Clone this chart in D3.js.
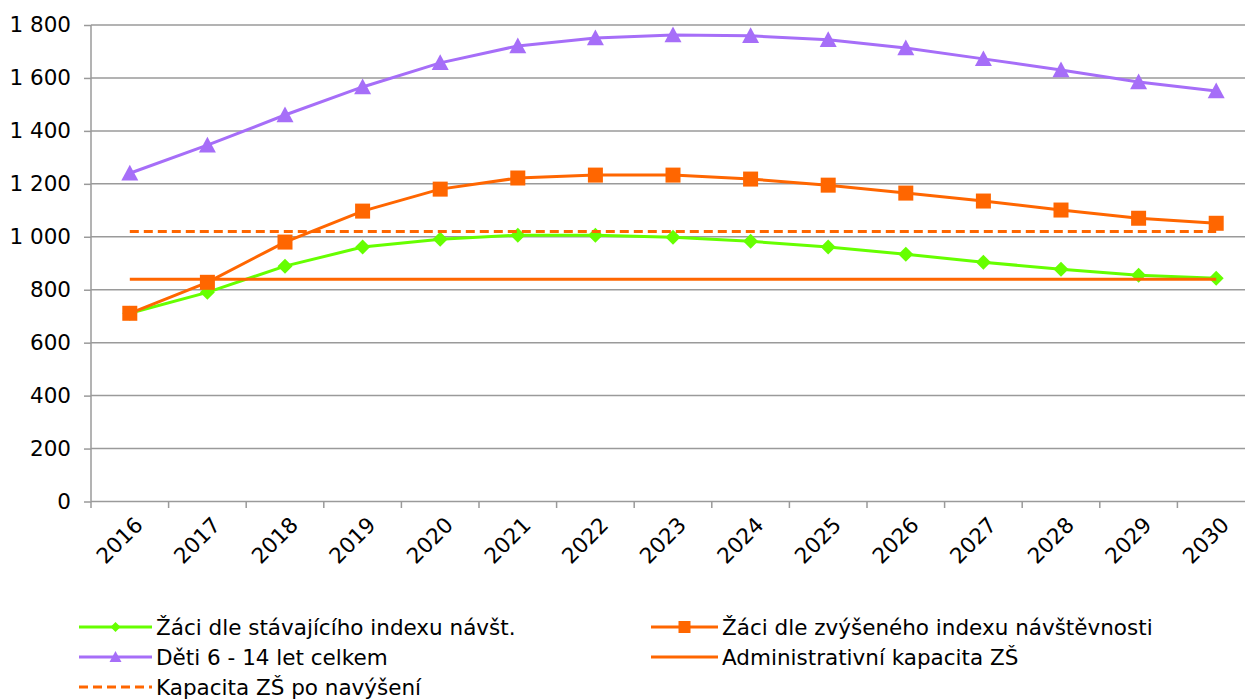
<!DOCTYPE html>
<html>
<head>
<meta charset="utf-8">
<script src="https://cdn.jsdelivr.net/npm/d3@7"></script>
<style>
body { margin: 0; background: #fff; }
svg text { font-family: "DejaVu Sans", Verdana, sans-serif; fill: #000; }
</style>
</head>
<body>
<div id="chart"></div>
<script>
var years = ["2016","2017","2018","2019","2020","2021","2022","2023","2024","2025","2026","2027","2028","2029","2030"];
var zaciStav = [711, 790, 889, 961, 991, 1006, 1006, 998, 983, 961, 934, 904, 877, 855, 843];
var zaciZvys = [711, 828, 980, 1097, 1180, 1222, 1233, 1233, 1218, 1195, 1165, 1135, 1101, 1070, 1051];
var deti = [1240, 1346, 1460, 1566, 1657, 1721, 1751, 1762, 1759, 1744, 1713, 1672, 1630, 1585, 1551];
var adminKap = [840, 840, 840, 840, 840, 840, 840, 840, 840, 840, 840, 840, 840, 840, 840];
var kapNavys = [1020, 1020, 1020, 1020, 1020, 1020, 1020, 1020, 1020, 1020, 1020, 1020, 1020, 1020, 1020];
var yTicks = [0, 200, 400, 600, 800, 1000, 1200, 1400, 1600, 1800];

var series = [
  {name: "Žáci dle stávajícího indexu návšt.", values: zaciStav, color: "#66ff00", marker: "diamond"},
  {name: "Žáci dle zvýšeného indexu návštěvnosti", values: zaciZvys, color: "#ff6600", marker: "square"},
  {name: "Děti 6 - 14 let celkem", values: deti, color: "#a66ef8", marker: "triangle"},
  {name: "Administrativní kapacita ZŠ", values: adminKap, color: "#ff6600", marker: null},
  {name: "Kapacita ZŠ po navýšení", values: kapNavys, color: "#ff6600", marker: null, dash: "9,5"}
];

var W = 1245, H = 700;
var FS = "21.5px";
var svg = d3.select("#chart").append("svg").attr("width", W).attr("height", H);

var x = d3.scaleBand().domain(years).range([91, 1255]);
var y = d3.scaleLinear().domain([0, 1800]).range([501.5, 25]);

// grid
svg.append("g").selectAll("line").data(yTicks).enter().append("line")
  .attr("x1", 91).attr("x2", W)
  .attr("y1", function(d){ return y(d); }).attr("y2", function(d){ return y(d); })
  .attr("stroke", "#9a9a9a").attr("stroke-width", 1.5);

// y axis
var yAxis = svg.append("g").attr("transform", "translate(91,0)")
  .call(d3.axisLeft(y).tickValues(yTicks).tickSize(7).tickPadding(13)
    .tickFormat(function(d){ return d3.format(",")(d).replace(/,/g, " "); }));
yAxis.select(".domain").attr("stroke", "#9a9a9a").attr("stroke-width", 1.5).attr("d", "M0,501.5V25");
yAxis.selectAll(".tick line").attr("stroke", "#9a9a9a").attr("stroke-width", 1.5);
yAxis.selectAll("text").style("font-size", FS);

// x axis: ticks between categories
var xg = svg.append("g");
var bounds = d3.range(years.length + 1).map(function(i){ return 91 + i * x.bandwidth(); });
xg.selectAll("line").data(bounds).enter().append("line")
  .attr("x1", function(d){ return d; }).attr("x2", function(d){ return d; })
  .attr("y1", 501.5).attr("y2", 508)
  .attr("stroke", "#9a9a9a").attr("stroke-width", 1.5);
xg.selectAll("text").data(years).enter().append("text")
  .attr("transform", function(d){ return "translate(" + (x(d) + x.bandwidth()/2 + 9) + ",521) rotate(-45)"; })
  .attr("text-anchor", "end")
  .attr("dy", "0.35em")
  .style("font-size", FS)
  .text(function(d){ return d; });

var line = d3.line()
  .x(function(d, i){ return x(years[i]) + x.bandwidth()/2; })
  .y(function(d){ return y(d); });

function marker(sel, type, color, size) {
  if (type === "diamond") {
    sel.append("path").attr("d", "M0,-" + size + "L" + size + ",0L0," + size + "L-" + size + ",0Z").attr("fill", color);
  } else if (type === "square") {
    sel.append("rect").attr("x", -size).attr("y", -size).attr("width", size*2).attr("height", size*2).attr("fill", color);
  } else if (type === "triangle") {
    sel.append("path").attr("d", "M0,-" + size + "L" + size + "," + (size*0.85) + "L-" + size + "," + (size*0.85) + "Z").attr("fill", color);
  }
}
var msize = {diamond: 7.5, square: 7.5, triangle: 8.5};

series.forEach(function(s){
  svg.append("path").datum(s.values)
    .attr("d", line).attr("fill", "none")
    .attr("stroke", s.color).attr("stroke-width", 3)
    .attr("stroke-dasharray", s.dash || null);
  if (s.marker) {
    s.values.forEach(function(v, i){
      var g = svg.append("g").attr("transform", "translate(" + (x(years[i]) + x.bandwidth()/2) + "," + y(v) + ")");
      marker(g, s.marker, s.color, msize[s.marker]);
    });
  }
});

// legend
var legPos = [[79, 627], [651, 627], [79, 657], [651, 657], [79, 687]];
series.forEach(function(s, i){
  var lx = legPos[i][0], ly = legPos[i][1];
  var lw = i % 2 === 0 ? 73 : 67;
  var g = svg.append("g");
  g.append("line").attr("x1", lx).attr("x2", lx + lw).attr("y1", ly).attr("y2", ly)
    .attr("stroke", s.color).attr("stroke-width", 3).attr("stroke-dasharray", s.dash || null);
  if (s.marker) {
    var m = g.append("g").attr("transform", "translate(" + (lx + lw/2) + "," + ly + ")");
    marker(m, s.marker, s.color, s.marker === "diamond" ? 5 : 6);
  }
  g.append("text").attr("x", lx + lw + 4).attr("y", ly).attr("dy", "0.35em")
    .style("font-size", FS).text(s.name);
});
</script>
</body>
</html>
